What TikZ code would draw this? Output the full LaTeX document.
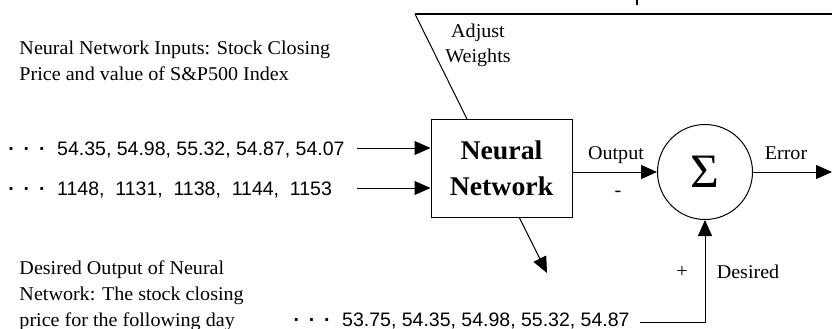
\documentclass[tikz,border=0pt]{standalone}
\usepackage{fontspec}
\setmainfont{Liberation Serif}[FakeStretch=1.03]
\newfontfamily\numfont{Liberation Sans}
\usetikzlibrary{arrows.meta}
\begin{document}
\begin{tikzpicture}[x=1pt, y=-1pt, line width=1pt,
  arr/.style={-{Triangle[length=16pt, width=14pt]}},
  txt/.style={inner sep=0pt, font=\fontsize{19.5}{25}\selectfont},
  nums/.style={inner sep=0pt, anchor=base west, font=\numfont\fontsize{19.5}{25}\selectfont}]
\useasboundingbox (0,0) rectangle (832,329);
\node[draw, minimum width=141pt, minimum height=98pt, inner sep=0pt, align=center, font=\bfseries\fontsize{27}{36}\selectfont] (nn) at (501.5,168) {Neural\\Network};
\node[draw, circle, minimum size=95pt, inner sep=0pt, font=\fontsize{48}{48}\selectfont] (sum) at (705,172) {Σ};
\node[nums] (row1) at (8,155) {\textbf{·\hspace{0.45em}·\hspace{0.45em}·}\hspace{0.6em}54.35, 54.98, 55.32, 54.87, 54.07};
\node[nums] (row2) at (8,195) {\textbf{·\hspace{0.45em}·\hspace{0.45em}·}\hspace{0.6em}1148,\ \ 1131,\ \ 1138,\ \ 1144,\ \ 1153};
\node[nums] (row3) at (293,326) {\textbf{·\hspace{0.45em}·\hspace{0.45em}·}\hspace{0.6em}53.75, 54.35, 54.98, 55.32, 54.87};
\coordinate (in1) at (357,148);
\coordinate (in2) at (357,188);
\draw[arr] (in1) -- (in1 -| nn.west);
\draw[arr] (in2) -- (in2 -| nn.west);
\draw[arr] (nn.east |- sum.west) -- (sum.west);
\coordinate (errend) at (832,172);
\draw[arr] (sum.east) -- (errend);
\coordinate (des) at (640,322);
\draw[arr] (des) -- (des -| sum.south) -- (sum.south);
\coordinate (nnout) at (519,217);
\coordinate (tgt) at (547,273);
\draw[arr] (nnout) -- (tgt);
\coordinate (wt) at (467,119);
\coordinate (adj) at (415,14);
\coordinate (topend) at (832,14);
\draw (wt) -- (adj);
\draw[line width=2pt] (adj) -- (topend);
\coordinate (tick) at (637,0);
\coordinate (tickend) at (637,5);
\draw[line width=2pt] (tick) -- (tickend);
\node[txt, anchor=base west, align=left] (inlbl) at (19,80) {Neural Network Inputs: Stock Closing\\Price and value of S\&P500 Index};
\node[txt, anchor=base west, align=left, font=\fontsize{19.5}{26}\selectfont] (deslbl) at (19,326) {Desired Output of Neural\\Network: The stock closing\\price for the following day};
\node[txt, anchor=base, align=center] (adjlbl) at (478,63) {Adjust\\Weights};
\node[txt, anchor=base] (outlbl) at (616,159) {Output};
\node[txt, anchor=base] (minus) at (618,196) {-};
\node[txt, anchor=base] (errlbl) at (786,159) {Error};
\node[txt, anchor=base] (plus) at (682,277) {+};
\node[txt, anchor=base] (desired) at (748,278) {Desired};
\end{tikzpicture}
\end{document}
